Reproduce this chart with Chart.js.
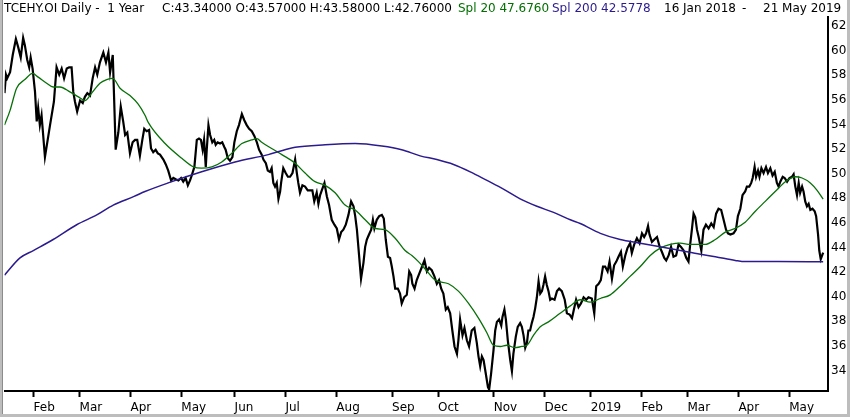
<!DOCTYPE html>
<html>
<head>
<meta charset="utf-8">
<script src="https://cdn.jsdelivr.net/npm/chart.js@4.4.1/dist/chart.umd.min.js"></script>
<style>
  body { margin: 0; background: #fff; }
  #wrap { position: relative; width: 850px; height: 417px; overflow: hidden; }
  #frame { position: absolute; left: 0; top: 0; width: 850px; height: 417px; box-sizing: border-box;
           border-left: 2px solid #bdbdbd; border-right: 3px solid #bdbdbd; border-bottom: 3px solid #bdbdbd;
           pointer-events: none; }
  #frame div { position: absolute; left: 0; top: 0; bottom: 0; width: 1px; background: #8c8c8c; }
  .hd { position: absolute; top: 1px; font: 12px "DejaVu Sans", sans-serif; color: #000; white-space: pre; line-height: 14px; }
</style>
</head>
<body>
<div id="wrap">
  <canvas id="chart" width="850" height="417"></canvas>
  <div class="hd" style="left:4px">TCEHY.OI Daily -  1 Year</div>
  <div class="hd" style="left:162px">C:43.34000 O:43.57000 H:43.58000 L:42.76000</div>
  <div class="hd" style="left:458px;color:#007000">Spl 20 47.6760</div>
  <div class="hd" style="left:552px;color:#2b1b8f">Spl 200 42.5778</div>
  <div class="hd" style="left:664px">16 Jan 2018</div>
  <div class="hd" style="left:742px">-</div>
  <div class="hd" style="left:763px">21 May 2019</div>
  <div id="frame"><div></div></div>
</div>
<script>
// x = trading day counted from 16 Jan 2018
var monthTickDay = [12, 31, 52, 73, 95, 116, 137, 160, 179, 202, 223, 242, 263, 282, 303, 324];
var monthTickLabel = ["Feb", "Mar", "Apr", "May", "Jun", "Jul", "Aug", "Sep", "Oct", "Nov", "Dec", "2019", "Feb", "Mar", "Apr", "May"];
var yTickValues = [34, 36, 38, 40, 42, 44, 46, 48, 50, 52, 54, 56, 58, 60, 62];

// daily close
var priceDay = [
  0, 0.6, 1.1, 2.3, 3.4, 4.7, 5.7, 6.7, 7.7, 8.4, 9.4, 10.2, 10.8, 11.6, 12.6, 13.3, 13.9, 14.6, 15.3, 16.7,
  18.8, 20.4, 21.5, 22.6, 23.6, 24.6, 25.7, 26.7, 27.7, 28.4, 29.1, 30.0, 31.2, 32.3, 33.2, 34.2, 35.3, 36.4, 37.4, 38.3,
  39.4, 40.8, 41.9, 42.9, 43.6, 44.7, 45.3, 45.9, 47.0, 48.0, 49.0, 49.8, 50.7, 51.8, 52.9, 53.9, 54.8, 55.9, 56.9, 57.7,
  58.7, 59.7, 60.5, 61.4, 62.4, 63.3, 64.2, 65.6, 66.6, 67.6, 68.8, 69.7, 70.7, 71.8, 72.9, 73.8, 74.8, 75.7, 76.6, 77.3,
  78.4, 79.4, 80.3, 81.1, 81.8, 82.4, 83.1, 83.5, 84.2, 84.9, 85.8, 86.6, 87.2, 88.0, 89.0, 89.9, 90.8, 91.3, 92.2, 93.1,
  94.1, 94.9, 95.9, 96.8, 98.0, 99.0, 100.0, 101.0, 102.1, 103.2, 104.2, 105.1, 106.2, 106.9, 107.9, 108.7, 109.6, 110.3, 111.0, 111.7,
  112.4, 113.1, 113.8, 114.2, 115.1, 116.1, 117.0, 117.9, 118.9, 120.0, 120.7, 121.3, 122.0, 123.0, 124.1, 125.2, 126.2, 127.1, 127.9, 128.9,
  129.6, 130.3, 131.0, 132.1, 133.1, 134.0, 135.1, 136.2, 137.2, 138.1, 139.0, 139.9, 140.9, 142.0, 143.1, 144.1, 144.8, 145.5, 146.1, 147.2,
  148.2, 148.9, 149.6, 150.5, 151.4, 152.1, 152.7, 153.7, 154.7, 155.8, 156.6, 157.4, 158.3, 159.2, 159.9, 160.6, 161.3, 162.4, 163.3, 164.0,
  165.0, 166.1, 167.1, 167.9, 168.4, 169.3, 170.2, 171.2, 172.2, 173.4, 174.4, 175.3, 176.4, 177.5, 178.5, 179.4, 180.3, 181.2, 182.2, 183.0,
  184.0, 184.9, 185.8, 186.8, 187.4, 188.1, 189.1, 189.9, 190.9, 191.8, 192.9, 194.0, 195.0, 195.7, 196.4, 197.1, 197.8, 198.7, 199.6, 200.1,
  200.9, 201.9, 202.6, 203.3, 204.2, 205.1, 205.6, 206.4, 207.0, 207.8, 208.8, 209.5, 210.1, 211.1, 211.9, 212.9, 213.6, 214.3, 215.0, 215.7,
  216.3, 217.0, 217.7, 218.4, 219.1, 219.8, 220.5, 221.2, 221.9, 222.5, 223.2, 223.9, 224.6, 225.3, 226.0, 227.1, 228.1, 229.0, 230.1, 231.3,
  232.2, 233.3, 234.3, 235.2, 236.0, 237.0, 238.0, 239.1, 240.2, 241.1, 242.5, 243.5, 244.3, 245.3, 246.2, 247.1, 248.0, 249.0, 249.8, 250.8,
  251.7, 252.6, 253.5, 254.5, 255.3, 256.3, 257.2, 258.3, 259.0, 260.0, 261.1, 262.2, 263.2, 264.1, 264.9, 265.7, 266.3, 267.3, 268.3, 269.4,
  270.5, 271.4, 272.4, 273.2, 274.2, 275.2, 276.2, 277.3, 278.3, 279.3, 280.4, 281.5, 282.4, 283.1, 283.8, 284.5, 285.2, 285.9, 286.6, 287.7,
  288.6, 289.6, 290.7, 291.8, 292.8, 293.8, 294.8, 295.9, 296.9, 297.9, 298.7, 299.7, 301.0, 302.0, 302.8, 303.8, 304.7, 305.8, 306.5, 307.5,
  308.3, 308.9, 309.7, 310.3, 311.1, 311.7, 312.5, 313.4, 314.4, 315.2, 316.2, 317.1, 318.0, 318.9, 319.6, 320.3, 321.3, 322.1, 323.1, 324.1,
  325.1, 325.8, 326.5, 327.2, 327.9, 328.5, 329.3, 329.9, 330.6, 331.3, 332.0, 332.7, 333.6, 334.5, 335.1, 335.9, 336.4, 337.0, 338.0
];
var priceClose = [
  56.3, 57.8, 57.5, 58.0, 59.4, 60.7, 60.0, 59.2, 60.8, 60.2, 59.0, 58.4, 59.2, 58.3, 56.4, 54.0, 55.1, 53.7, 54.5, 51.1,
  53.7, 55.6, 58.4, 57.8, 58.3, 57.5, 58.3, 58.4, 58.4, 56.4, 55.6, 54.8, 55.7, 55.5, 56.0, 56.3, 56.1, 57.5, 58.4, 57.8,
  58.8, 59.6, 58.8, 59.6, 58.0, 59.4, 55.6, 51.7, 53.1, 55.2, 54.0, 52.9, 53.1, 51.4, 52.3, 52.5, 52.5, 51.2, 52.5, 53.4,
  53.2, 53.3, 51.8, 51.5, 51.7, 51.4, 51.3, 50.9, 50.5, 50.0, 49.2, 49.4, 49.3, 49.2, 49.4, 49.1, 49.4, 48.8, 49.2, 49.6,
  50.3, 52.5, 52.6, 52.5, 51.7, 52.5, 50.3, 51.7, 53.7, 52.9, 52.3, 52.5, 52.1, 52.3, 52.2, 52.3, 51.9, 51.7, 51.0, 50.8,
  51.1, 52.3, 53.2, 53.7, 54.6, 54.1, 53.7, 53.4, 53.2, 52.8, 52.3, 51.7, 51.3, 50.9, 50.6, 50.0, 49.9, 50.2, 49.0, 48.7,
  49.0, 47.7, 48.3, 49.0, 50.2, 49.8, 49.5, 49.5, 49.8, 50.9, 49.8, 49.0, 48.2, 48.8, 48.7, 48.4, 48.4, 48.4, 47.5, 48.2,
  47.3, 48.0, 48.4, 49.0, 47.9, 47.2, 46.0, 45.6, 45.3, 44.4, 45.0, 45.2, 45.6, 46.4, 47.5, 47.1, 46.3, 45.2, 43.8, 41.2,
  42.5, 43.8, 44.4, 44.8, 45.2, 46.0, 45.3, 46.0, 46.3, 46.4, 46.1, 44.4, 43.0, 42.9, 42.2, 41.4, 40.4, 40.4, 40.0, 39.2,
  39.7, 39.9, 41.8, 41.5, 40.8, 40.4, 41.1, 41.6, 42.1, 42.7, 41.8, 42.1, 41.9, 41.4, 40.8, 41.1, 40.4, 40.0, 38.7, 38.9,
  38.4, 37.0, 35.7, 35.1, 36.2, 37.9, 36.6, 37.2, 36.2, 35.7, 37.0, 37.2, 36.0, 34.9, 34.1, 34.9, 34.6, 33.5, 32.4, 32.2,
  33.5, 35.4, 37.0, 37.7, 37.9, 37.4, 38.1, 38.7, 37.9, 36.2, 34.6, 33.7, 35.1, 36.5, 37.3, 37.6, 37.3, 36.6, 35.6, 36.0,
  37.0, 37.0, 37.6, 38.1, 38.8, 39.7, 41.0, 40.0, 40.2, 40.7, 41.4, 40.7, 40.2, 39.5, 39.6, 39.5, 40.2, 40.4, 40.2, 39.5,
  38.4, 38.3, 38.0, 38.8, 39.5, 38.9, 39.2, 39.7, 39.5, 39.7, 39.6, 38.4, 40.6, 40.8, 41.1, 42.2, 42.2, 41.8, 42.6, 41.2,
  42.3, 42.6, 43.0, 43.4, 42.2, 43.1, 43.7, 44.1, 43.3, 44.0, 44.5, 44.1, 44.9, 44.6, 44.9, 45.5, 44.8, 44.2, 44.4, 44.6,
  43.8, 43.4, 42.9, 42.7, 43.1, 43.8, 43.0, 43.1, 44.0, 43.8, 43.5, 42.9, 42.6, 44.0, 45.2, 46.5, 46.2, 45.2, 44.6, 43.5,
  45.2, 45.6, 45.3, 45.7, 45.4, 46.5, 46.9, 46.8, 46.0, 45.2, 44.9, 44.8, 44.9, 45.2, 46.3, 46.9, 48.0, 48.3, 48.7, 48.7,
  49.0, 49.4, 50.3, 49.5, 50.0, 49.5, 50.2, 49.8, 50.3, 49.8, 50.2, 49.6, 49.9, 49.0, 48.7, 49.1, 49.5, 49.4, 49.1, 49.4,
  49.5, 49.7, 48.7, 48.0, 49.0, 48.2, 48.7, 48.3, 47.5, 47.1, 47.3, 46.8, 46.9, 46.7, 46.3, 44.8, 43.5, 42.8, 43.34
];

// Spl 20
var spl20Day = [0, 2.3, 5.0, 8.4, 11.6, 13.9, 17.4, 20.1, 22.9, 27.0, 30.5, 33.2, 36.0, 39.4, 42.2, 44.7, 47.7, 51.8, 55.2, 58.0,
  59.4, 66.3, 73.2, 78.0, 81.4, 85.6, 89.7, 93.8, 98.0, 102.1, 104.2, 106.2, 110.3, 114.5, 120.0, 124.1, 128.2, 132.4, 136.5, 140.6,
  144.8, 148.9, 153.0, 157.1, 161.3, 165.4, 168.2, 170.9, 173.7, 177.8, 183.3, 187.4, 191.6, 195.7, 199.2, 201.9, 204.7, 207.4, 210.8, 213.6,
  215.7, 218.4, 221.2, 224.6, 229.4, 233.6, 237.7, 241.8, 246.0, 250.1, 254.2, 258.3, 262.5, 266.6, 270.7, 274.9, 279.0, 283.1, 289.3, 293.5,
  297.6, 301.7, 305.8, 310.0, 314.1, 318.2, 322.4, 326.5, 329.3, 332.7, 335.5, 338.0];
var spl20 = [53.7, 54.9, 56.7, 57.4, 57.9, 57.6, 57.1, 56.8, 56.8, 56.4, 56.0, 55.7, 56.3, 57.1, 57.4, 57.5, 56.7, 56.1, 55.4, 54.5,
  53.9, 52.2, 51.0, 50.3, 50.2, 50.3, 50.7, 51.4, 52.2, 52.5, 52.6, 52.3, 51.8, 51.3, 50.6, 49.8, 49.1, 48.8, 48.2, 47.2,
  46.8, 46.0, 45.3, 45.2, 44.5, 43.5, 43.1, 42.6, 42.0, 41.1, 40.8, 40.2, 39.2, 38.0, 36.8, 35.8, 35.7, 35.8, 35.6, 35.7,
  35.8, 36.6, 37.3, 37.7, 38.4, 39.0, 39.5, 39.3, 39.6, 39.9, 40.6, 41.4, 42.2, 43.1, 43.7, 44.0, 44.1, 44.0, 44.0, 44.4,
  45.0, 45.3, 45.8, 46.7, 47.5, 48.3, 49.1, 49.5, 49.4, 49.0, 48.4, 47.68];

// Spl 200
var spl200Day = [0, 6.4, 11.9, 20.1, 29.8, 38.1, 44.9, 53.5, 58.0, 67.6, 81.4, 95.2, 108.9, 115.8, 120.0, 132.4, 144.8, 155.8, 164.0, 171.6,
  178.5, 185.4, 192.3, 199.2, 206.0, 212.9, 219.8, 226.7, 233.6, 237.7, 246.0, 254.2, 262.5, 270.7, 279.0, 287.3, 293.5, 301.7, 305.8, 319.6, 338.0];
var spl200 = [41.5, 42.9, 43.5, 44.4, 45.6, 46.4, 47.2, 47.9, 48.3, 49.0, 49.9, 50.7, 51.3, 51.7, 51.9, 52.1, 52.2, 52.0, 51.7, 51.2,
  50.9, 50.5, 49.9, 49.2, 48.5, 47.7, 47.1, 46.6, 46.0, 45.7, 44.9, 44.4, 44.1, 43.8, 43.5, 43.2, 43.0, 42.7, 42.6, 42.6, 42.58];

function pts(days, vals) {
  return days.map(function (d, i) { return { x: d, y: vals[i] }; });
}

var axisFont = { family: "DejaVu Sans", size: 12 };

new Chart(document.getElementById("chart").getContext("2d"), {
  type: "line",
  data: {
    datasets: [
      { label: "Spl 200", data: pts(spl200Day, spl200), borderColor: "#2b1b8f", borderWidth: 1.5,
        pointRadius: 0, cubicInterpolationMode: "monotone" },
      { label: "Spl 20", data: pts(spl20Day, spl20), borderColor: "#087008", borderWidth: 1.3,
        pointRadius: 0, cubicInterpolationMode: "monotone" },
      { label: "TCEHY.OI", data: pts(priceDay, priceClose), borderColor: "#000", borderWidth: 2.2,
        pointRadius: 0, tension: 0 }
    ]
  },
  options: {
    responsive: false,
    animation: false,
    devicePixelRatio: 1,
    layout: { padding: { left: 4.5, top: 17, right: 0, bottom: 0 } },
    plugins: { legend: { display: false }, tooltip: { enabled: false } },
    scales: {
      x: {
        type: "linear", min: 0, max: 340,
        afterBuildTicks: function (s) { s.ticks = monthTickDay.map(function (v) { return { value: v }; }); },
        afterFit: function (s) { s.height = 26; },
        ticks: {
          autoSkip: false, maxRotation: 0, align: "start", padding: 4, color: "#000", font: axisFont,
          callback: function (v, i) { return monthTickLabel[i]; }
        },
        grid: { drawOnChartArea: false, drawTicks: true, tickLength: 6, tickWidth: 2, tickColor: "#000" },
        border: { display: true, color: "#000", width: 2 }
      },
      y: {
        position: "right", min: 32.08, max: 62.49,
        afterBuildTicks: function (s) { s.ticks = yTickValues.map(function (v) { return { value: v }; }); },
        afterFit: function (s) { s.width = 22; },
        ticks: { padding: 3, labelOffset: 3, color: "#000", font: axisFont },
        grid: { drawOnChartArea: false, drawTicks: false },
        border: { display: true, color: "#000", width: 2 }
      }
    }
  }
});
</script>
</body>
</html>
